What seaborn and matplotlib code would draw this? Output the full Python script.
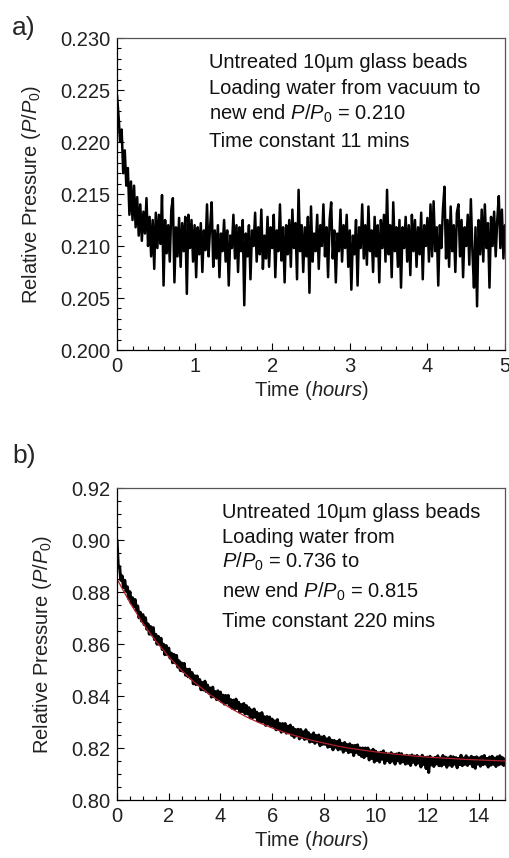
import numpy as np
import pandas as pd
import matplotlib
matplotlib.use("Agg")
import matplotlib.pyplot as plt
import seaborn as sns
from matplotlib.ticker import MultipleLocator, FormatStrFormatter

sns.set_theme(style="ticks")
plt.rcParams['font.family'] = ['Liberation Sans', 'DejaVu Sans']
plt.rcParams['mathtext.fontset'] = 'custom'
plt.rcParams['mathtext.rm'] = 'Liberation Sans'
plt.rcParams['mathtext.it'] = 'Liberation Sans:italic'

# panel a: loading from vacuum, one reading every 0.02 h
pressure_a = [
    0.2245, 0.2225, 0.2200, 0.2212, 0.2170, 0.2192, 0.2158, 0.2175, 0.2130, 0.2162,
    0.2125, 0.2158, 0.2118, 0.2147, 0.2110, 0.2140, 0.2105, 0.2133, 0.2112, 0.2146,
    0.2100, 0.2128, 0.2090, 0.2125, 0.2078, 0.2132, 0.2098, 0.2130, 0.2102, 0.2149,
    0.2062, 0.2125, 0.2093, 0.2120, 0.2085, 0.2135, 0.2146, 0.2065, 0.2118, 0.2090,
    0.2127, 0.2080, 0.2122, 0.2095, 0.2128, 0.2054, 0.2130, 0.2098, 0.2125, 0.2085,
    0.2120, 0.2070, 0.2118, 0.2092, 0.2122, 0.2075, 0.2115, 0.2096, 0.2140, 0.2090,
    0.2118, 0.2142, 0.2080, 0.2115, 0.2088, 0.2120, 0.2070, 0.2112, 0.2095, 0.2125,
    0.2085, 0.2115, 0.2062, 0.2110, 0.2098, 0.2130, 0.2088, 0.2120, 0.2075, 0.2118,
    0.2095, 0.2125, 0.2043, 0.2112, 0.2090, 0.2120, 0.2068, 0.2115, 0.2100, 0.2132,
    0.2085, 0.2118, 0.2092, 0.2135, 0.2078, 0.2110, 0.2088, 0.2128, 0.2080, 0.2118,
    0.2098, 0.2130, 0.2070, 0.2115, 0.2095, 0.2140, 0.2086, 0.2118, 0.2065, 0.2120,
    0.2092, 0.2125, 0.2080, 0.2135, 0.2098, 0.2122, 0.2068, 0.2154, 0.2095, 0.2120,
    0.2075, 0.2118, 0.2090, 0.2128, 0.2055, 0.2138, 0.2085, 0.2112, 0.2095, 0.2130,
    0.2078, 0.2120, 0.2100, 0.2140, 0.2090, 0.2118, 0.2070, 0.2125, 0.2142, 0.2088,
    0.2115, 0.2065, 0.2112, 0.2095, 0.2135, 0.2085, 0.2120, 0.2098, 0.2130, 0.2080,
    0.2115, 0.2058, 0.2110, 0.2092, 0.2125, 0.2062, 0.2118, 0.2098, 0.2140, 0.2088,
    0.2120, 0.2082, 0.2138, 0.2095, 0.2115, 0.2075, 0.2128, 0.2090, 0.2120, 0.2065,
    0.2125, 0.2098, 0.2130, 0.2085, 0.2154, 0.2092, 0.2120, 0.2070, 0.2142, 0.2095,
    0.2118, 0.2080, 0.2125, 0.2060, 0.2118, 0.2098, 0.2128, 0.2085, 0.2120, 0.2072,
    0.2130, 0.2095, 0.2125, 0.2080, 0.2118, 0.2092, 0.2132, 0.2068, 0.2120, 0.2100,
    0.2127, 0.2085, 0.2140, 0.2090, 0.2143, 0.2095, 0.2118, 0.2062, 0.2120, 0.2098,
    0.2135, 0.2157, 0.2088, 0.2125, 0.2080, 0.2138, 0.2095, 0.2120, 0.2075, 0.2132,
    0.2140, 0.2090, 0.2125, 0.2070, 0.2118, 0.2100, 0.2130, 0.2082, 0.2145, 0.2095,
    0.2060, 0.2118, 0.2042, 0.2125, 0.2092, 0.2135, 0.2085, 0.2140, 0.2098, 0.2122,
    0.2060, 0.2128, 0.2100, 0.2133, 0.2090, 0.2125, 0.2148, 0.2098, 0.2135, 0.2088,
    0.2120,
]
time_a = np.linspace(0, 5, len(pressure_a))

# panel b: loading from P/P0 = 0.736, one reading every 0.05 h
pressure_b = [
    0.9000, 0.8895, 0.8898, 0.8845, 0.8862, 0.8817, 0.8845, 0.8803, 0.8820, 0.8775,
    0.8801, 0.8757, 0.8778, 0.8744, 0.8771, 0.8730, 0.8746, 0.8701, 0.8722, 0.8688,
    0.8713, 0.8675, 0.8701, 0.8657, 0.8677, 0.8638, 0.8667, 0.8635, 0.8663, 0.8617,
    0.8637, 0.8599, 0.8629, 0.8598, 0.8622, 0.8579, 0.8599, 0.8559, 0.8594, 0.8559,
    0.8584, 0.8546, 0.8565, 0.8528, 0.8560, 0.8528, 0.8556, 0.8511, 0.8535, 0.8498,
    0.8527, 0.8495, 0.8525, 0.8480, 0.8503, 0.8474, 0.8503, 0.8468, 0.8490, 0.8447,
    0.8478, 0.8444, 0.8477, 0.8443, 0.8463, 0.8424, 0.8452, 0.8423, 0.8457, 0.8417,
    0.8442, 0.8411, 0.8431, 0.8396, 0.8434, 0.8397, 0.8417, 0.8386, 0.8420, 0.8388,
    0.8415, 0.8378, 0.8403, 0.8369, 0.8402, 0.8373, 0.8402, 0.8364, 0.8386, 0.8353,
    0.8384, 0.8350, 0.8388, 0.8352, 0.8376, 0.8338, 0.8367, 0.8340, 0.8371, 0.8332,
    0.8363, 0.8331, 0.8355, 0.8316, 0.8346, 0.8317, 0.8350, 0.8318, 0.8338, 0.8304,
    0.8332, 0.8301, 0.8336, 0.8300, 0.8320, 0.8287, 0.8321, 0.8292, 0.8319, 0.8283,
    0.8311, 0.8283, 0.8304, 0.8270, 0.8309, 0.8271, 0.8294, 0.8261, 0.8294, 0.8265,
    0.8294, 0.8257, 0.8284, 0.8259, 0.8288, 0.8249, 0.8279, 0.8241, 0.8271, 0.8247,
    0.8272, 0.8235, 0.8271, 0.8241, 0.8262, 0.8233, 0.8270, 0.8235, 0.8259, 0.8223,
    0.8251, 0.8225, 0.8258, 0.8218, 0.8248, 0.8223, 0.8250, 0.8209, 0.8242, 0.8214,
    0.8245, 0.8214, 0.8235, 0.8203, 0.8240, 0.8205, 0.8230, 0.8193, 0.8229, 0.8203,
    0.8225, 0.8193, 0.8231, 0.8196, 0.8217, 0.8184, 0.8221, 0.8191, 0.8213, 0.8182,
    0.8216, 0.8185, 0.8210, 0.8171, 0.8210, 0.8183, 0.8212, 0.8175, 0.8200, 0.8168,
    0.8200, 0.8163, 0.8200, 0.8170, 0.8200, 0.8154, 0.8189, 0.8160, 0.8195, 0.8146,
    0.8188, 0.8152, 0.8181, 0.8146, 0.8184, 0.8157, 0.8189, 0.8141, 0.8180, 0.8152,
    0.8177, 0.8143, 0.8182, 0.8150, 0.8176, 0.8138, 0.8177, 0.8151, 0.8180, 0.8141,
    0.8178, 0.8147, 0.8169, 0.8138, 0.8172, 0.8141, 0.8170, 0.8133, 0.8173, 0.8145,
    0.8169, 0.8135, 0.8171, 0.8142, 0.8165, 0.8127, 0.8172, 0.8137, 0.8164, 0.8121,
    0.8165, 0.8106, 0.8168, 0.8135, 0.8161, 0.8129, 0.8164, 0.8139, 0.8170, 0.8132,
    0.8161, 0.8131, 0.8171, 0.8137, 0.8165, 0.8126, 0.8162, 0.8135, 0.8168, 0.8129,
    0.8166, 0.8138, 0.8163, 0.8124, 0.8160, 0.8136, 0.8172, 0.8132, 0.8161, 0.8137,
    0.8170, 0.8133, 0.8162, 0.8139, 0.8168, 0.8128, 0.8164, 0.8122, 0.8166, 0.8138,
    0.8162, 0.8130, 0.8167, 0.8136, 0.8171, 0.8138, 0.8160, 0.8127, 0.8165, 0.8134,
    0.8168, 0.8137, 0.8161, 0.8129, 0.8166, 0.8135, 0.8170, 0.8138, 0.8163, 0.8133,
    0.8158,
]
time_b = np.linspace(0, 15, len(pressure_b))

# exponential fit (time constant 220 min), read every 0.5 h
fit_b = [
    0.8850, 0.8759, 0.8680, 0.8611, 0.8551, 0.8498, 0.8452, 0.8412, 0.8377, 0.8347,
    0.8320, 0.8297, 0.8277, 0.8259, 0.8244, 0.8230, 0.8219, 0.8208, 0.8199, 0.8192,
    0.8185, 0.8179, 0.8174, 0.8169, 0.8165, 0.8162, 0.8159, 0.8156, 0.8154, 0.8152,
    0.8150,
]
fit_time_b = np.linspace(0, 15, len(fit_b))

text_a = ["Untreated 10\u00b5m glass beads",
          "Loading water from vacuum to",
          r"new end $\mathit{P/P}_{\mathrm{0}}$ = 0.210",
          "Time constant 11 mins"]
text_b = ["Untreated 10\u00b5m glass beads",
          "Loading water from",
          r"$\mathit{P/P}_{\mathrm{0}}$ = 0.736 to",
          r"new end $\mathit{P/P}_{\mathrm{0}}$ = 0.815",
          "Time constant 220 mins"]

df_a = pd.DataFrame({"t": time_a, "p": pressure_a})
df_b = pd.DataFrame({"t": time_b, "p": pressure_b})
df_fit = pd.DataFrame({"t": fit_time_b, "p": fit_b})

W, H = 510, 858
fig = plt.figure(figsize=(W / 100, H / 100), dpi=100)
ax_a = fig.add_axes([117 / W, 1 - 350 / H, 388 / W, 312 / H])
ax_b = fig.add_axes([117 / W, 1 - 800 / H, 388 / W, 312 / H])

sns.lineplot(data=df_a, x="t", y="p", ax=ax_a, color="black", lw=1.8,
             estimator=None, sort=False)
sns.lineplot(data=df_b, x="t", y="p", ax=ax_b, color="black", lw=2.2,
             estimator=None, sort=False)
sns.lineplot(data=df_fit, x="t", y="p", ax=ax_b, color="#b0202a", lw=0.9,
             estimator=None, sort=False)

ylabel = r"Relative Pressure ($\mathit{P/P}_{\mathrm{0}}$)"
xlabel = r"Time ($\mathit{hours}$)"

setup = [
    (ax_a, (0, 5), (0.200, 0.230), 1, 0.2, 0.005, 0.001, "%.3f"),
    (ax_b, (0, 15), (0.80, 0.92), 2, 0.5, 0.02, 0.005, "%.2f"),
]
for ax, xl, yl, xmaj, xmin, ymaj, ymin, fmt in setup:
    ax.set_xlim(*xl)
    ax.set_ylim(*yl)
    ax.xaxis.set_major_locator(MultipleLocator(xmaj))
    ax.xaxis.set_minor_locator(MultipleLocator(xmin))
    ax.yaxis.set_major_locator(MultipleLocator(ymaj))
    ax.yaxis.set_minor_locator(MultipleLocator(ymin))
    ax.yaxis.set_major_formatter(FormatStrFormatter(fmt))
    ax.tick_params(which="both", direction="in", top=False, right=False,
                   colors="black", labelcolor="#222222", labelsize=14.5, width=0.8)
    ax.tick_params(which="major", length=5, pad=5)
    ax.tick_params(which="minor", length=2.8)
    for side in ["left", "bottom"]:
        ax.spines[side].set_color("black")
        ax.spines[side].set_linewidth(0.9)
    for side in ["top", "right"]:
        ax.spines[side].set_visible(True)
        ax.spines[side].set_color("#555555")
        ax.spines[side].set_linewidth(0.9)
    ax.set_ylabel(ylabel, fontsize=14.5, labelpad=12, color="#222222")
    ax.set_xlabel(xlabel, fontsize=14.5, labelpad=2, color="#222222")
    ax.grid(False)

for line, y in zip(text_a, [0.904, 0.820, 0.737, 0.651]):
    ax_a.text(0.237, y, line, transform=ax_a.transAxes, fontsize=14.5,
              va="baseline", ha="left", color="#111111")
for line, y in zip(text_b, [0.904, 0.824, 0.744, 0.647, 0.554]):
    ax_b.text(0.2706, y, line, transform=ax_b.transAxes, fontsize=14.5,
              va="baseline", ha="left", color="#111111")

fig.text(12 / W, 1 - 35 / H, "a)", fontsize=19, va="baseline", ha="left")
fig.text(12 / W, 1 - 463 / H, "b)", fontsize=19, va="baseline", ha="left")

fig.savefig("out.png", dpi=100, facecolor="white")
